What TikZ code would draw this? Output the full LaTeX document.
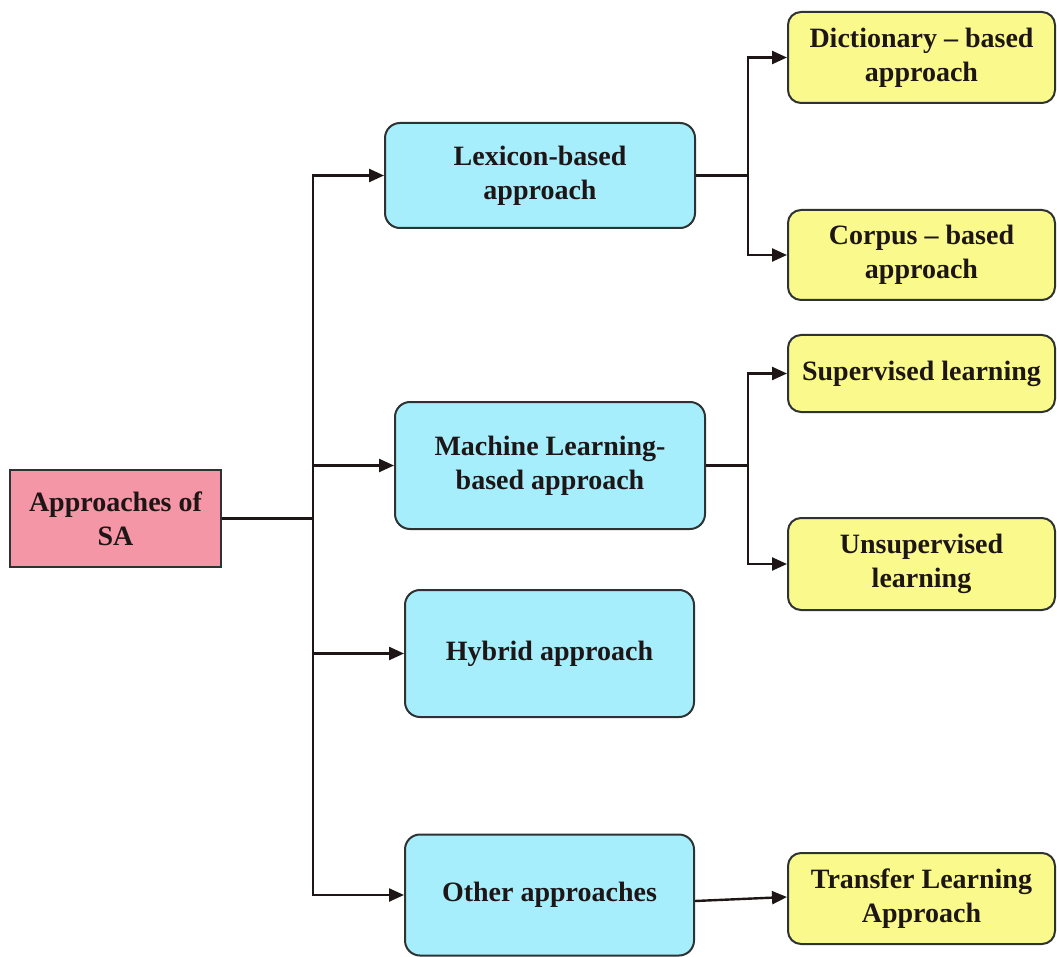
\documentclass[tikz,border=0pt]{standalone}
\usepackage{fontspec}
\setmainfont{Liberation Serif}
\usetikzlibrary{arrows.meta}
\definecolor{rootfill}{RGB}{245,150,166}
\definecolor{midfill}{RGB}{166,238,252}
\definecolor{leaffill}{RGB}{250,250,140}
\definecolor{edge}{RGB}{45,50,50}
\definecolor{ink}{RGB}{30,22,22}
\tikzset{
  box/.style={draw=edge, line width=2pt, text=ink, align=center,
    font=\fontsize{28}{34}\selectfont\bfseries, inner sep=0pt},
  rootbox/.style={box, fill=rootfill},
  midbox/.style={box, fill=midfill, rounded corners=15pt},
  leafbox/.style={box, fill=leaffill, rounded corners=13pt},
  link/.style={draw=ink, line width=2.4pt},
  arr/.style={link, -{Triangle[length=15pt,width=13pt]}},
}
\begin{document}
\begin{tikzpicture}[x=1pt,y=-1pt]
\useasboundingbox (0,0) rectangle (1057,957);

% root
\node[rootbox, minimum width=211pt, minimum height=97pt] (root) at (115.5,518.5) {Approaches of\\SA};

% main approaches
\node[midbox, minimum width=310pt, minimum height=105pt] (lex) at (540,175.5) {Lexicon-based\\approach};
\node[midbox, minimum width=310pt, minimum height=127pt] (ml) at (550,465.5) {Machine Learning-\\based approach};
\node[midbox, minimum width=289pt, minimum height=127pt] (hyb) at (549.5,653.5) {Hybrid approach};
\node[midbox, minimum width=289pt, minimum height=121pt] (oth) at (549.5,895) {Other approaches};

% sub-approaches
\node[leafbox, minimum width=267pt, minimum height=91pt] (dict) at (921.5,57.5) {Dictionary -- based\\approach};
\node[leafbox, minimum width=267pt, minimum height=90pt] (corp) at (921.5,255) {Corpus -- based\\approach};
\node[leafbox, minimum width=267pt, minimum height=77pt] (sup) at (921.5,373.5) {Supervised learning};
\node[leafbox, minimum width=267pt, minimum height=92pt] (unsup) at (921.5,564) {Unsupervised\\learning};
\node[leafbox, minimum width=267pt, minimum height=91pt] (tr) at (921.5,898.5) {Transfer Learning\\Approach};

% trunk from the root
\coordinate (t) at (313,518.5);
\draw[link] (root.east) -- (t);
\draw[arr] (t) |- (lex.west);
\draw[arr] (t) |- (ml.west);
\draw[arr] (t) |- (hyb.west);
\draw[arr] (t) |- (oth.west);

% lexicon branch
\coordinate (lb) at (748,175.5);
\draw[link] (lex.east) -- (lb);
\draw[arr] (lb) |- (dict.west);
\draw[arr] (lb) |- (corp.west);

% machine learning branch
\coordinate (mb) at (748,465.5);
\draw[link] (ml.east) -- (mb);
\draw[arr] (mb) |- (sup.west);
\draw[arr] (mb) |- (unsup.west);

% other approaches
\draw[arr] ([yshift=-6pt]oth.east) -- ([yshift=1.5pt]tr.west);
\end{tikzpicture}
\end{document}
